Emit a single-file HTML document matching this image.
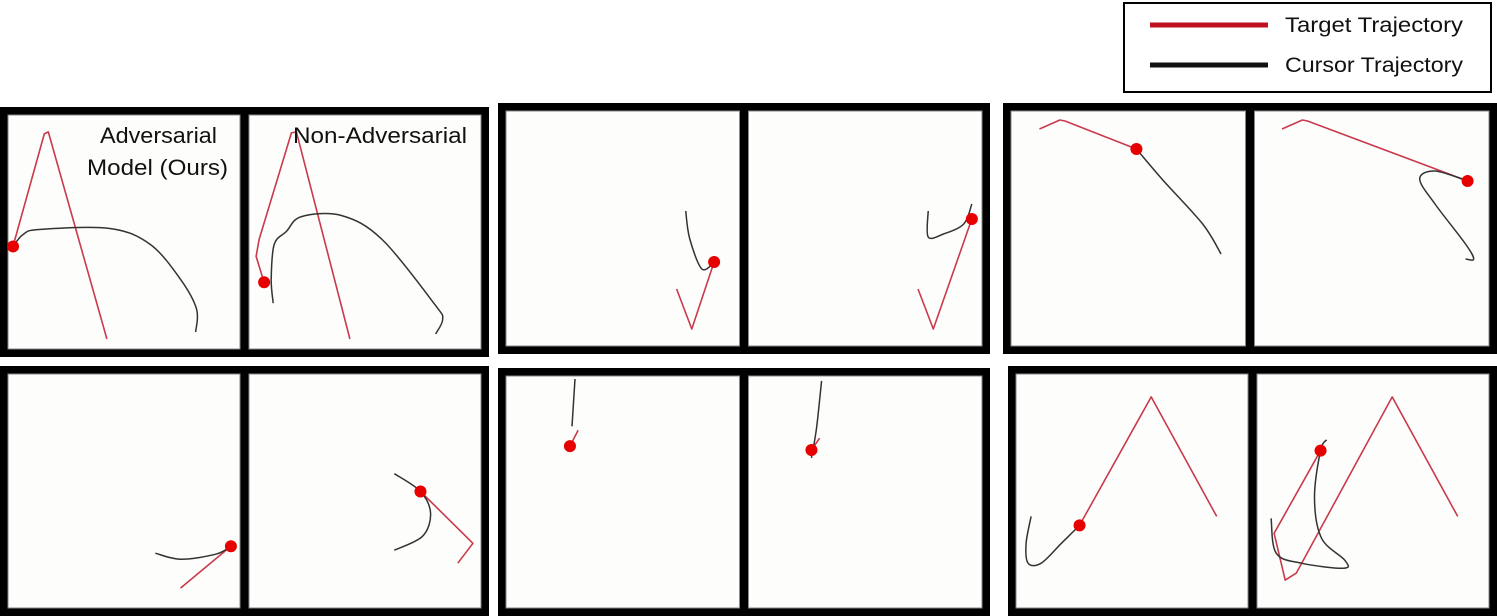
<!DOCTYPE html>
<html><head><meta charset="utf-8"><style>
body{margin:0;background:#fff;}
svg{display:block;font-family:"Liberation Sans","DejaVu Sans",sans-serif;}
</style></head><body>
<svg id="fig" width="1497" height="616" viewBox="0 0 1497 616">
<g>
<rect x="1124" y="3" width="367" height="89" fill="#fff" stroke="#000" stroke-width="2"/>
<line x1="1150" y1="25" x2="1268" y2="25" stroke="#c0111f" stroke-width="5"/>
<text x="1285" y="32" font-size="21" textLength="178" lengthAdjust="spacingAndGlyphs" fill="#111">Target Trajectory</text>
<line x1="1150" y1="65" x2="1268" y2="65" stroke="#111" stroke-width="5"/>
<text x="1285" y="72" font-size="21" textLength="178" lengthAdjust="spacingAndGlyphs" fill="#111">Cursor Trajectory</text>
</g>
<g id="groups"></g>
<text x="100" y="143" font-size="22" textLength="117" lengthAdjust="spacingAndGlyphs" fill="#111">Adversarial</text>
<text x="87" y="175" font-size="22" textLength="141" lengthAdjust="spacingAndGlyphs" fill="#111">Model (Ours)</text>
<text x="293" y="143" font-size="22" textLength="174" lengthAdjust="spacingAndGlyphs" fill="#111">Non-Adversarial</text>
</svg>
<script>
// group frames [x, y, w, h]
const groupBoxes = [[0,107,489,250],[498,103,492,251],[1003,103,494,251],[0,366,489,250],[498,368,492,248],[1008,366,489,250]];
// trajectories per panel (local coords, panel ~230x235)
const targets = [
 [[5,132],[36,19],[40,17],[98,225]],
 [[15,168],[7,142],[10,125],[42,18],[47,17],[100,225]],
 [[168,178],[183,218],[205,151]],
 [[167,178],[182,218],[220,108]],
 [[28,18],[48,9],[53,10],[123,38]],
 [[27,18],[47,9],[52,10],[209,70]],
 [[171,215],[221,173]],
 [[170,118],[222,170],[207,190]],
 [[71,55],[63,71]],
 [[70,63],[62,75]],
 [[63,152],[134,23],[199,143]],
 [[63,77],[17,160],[28,207],[39,200],[134,23],[199,143]]
];
const cursors = [
 [[5,132],[15,120],[31,115],[101,114],[141,130],[171,165],[187,195],[186,218]],
 [[24,189],[22,165],[25,130],[37,117],[52,102],[92,101],[132,125],[184,190],[192,205],[185,220]],
 [[177,100],[181,128],[193,158],[205,151]],
 [[177,100],[177,126],[192,123],[212,113],[220,93]],
 [[123,38],[148,68],[188,113],[206,143]],
 [[209,70],[177,60],[162,68],[177,93],[207,133],[215,148],[207,148]],
 [[146,180],[171,186],[206,181],[221,173]],
 [[144,100],[170,118],[180,140],[172,163],[144,177]],
 [[68,3],[65,51]],
 [[72,5],[67,53],[62,83]],
 [[15,143],[10,170],[12,190],[25,190],[45,170],[63,152]],
 [[69,66],[63,77],[57,125],[64,165],[87,187],[86,195],[44,190],[19,180],[14,145]]
];
const dots = [[5,132],[15,168],[205,151],[220,108],[123,38],[209,70],[221,173],[170,118],[63,71],[62,75],[63,152],[63,77]];
const NS="http://www.w3.org/2000/svg";
const root=document.getElementById('groups');
function mk(t,a){const e=document.createElementNS(NS,t);for(const k in a)e.setAttribute(k,a[k]);return e;}
function sx(p,v){return p.x+v*p.w/230;}
function sy(p,v){return p.y+v*p.h/235;}
function pts(p,arr){return arr.map(q=>sx(p,q[0]).toFixed(1)+','+sy(p,q[1]).toFixed(1)).join(' ');}
function smooth(p,arr){
 const P=arr.map(q=>[sx(p,q[0]),sy(p,q[1])]);
 let d='M'+P[0][0].toFixed(1)+','+P[0][1].toFixed(1);
 for(let i=0;i<P.length-1;i++){
  const p0=P[Math.max(i-1,0)],p1=P[i],p2=P[i+1],p3=P[Math.min(i+2,P.length-1)];
  const c1=[p1[0]+(p2[0]-p0[0])/6,p1[1]+(p2[1]-p0[1])/6];
  const c2=[p2[0]-(p3[0]-p1[0])/6,p2[1]-(p3[1]-p1[1])/6];
  d+=' C'+c1.map(v=>v.toFixed(1)).join(',')+' '+c2.map(v=>v.toFixed(1)).join(',')+' '+p2.map(v=>v.toFixed(1)).join(',');
 }
 return d;
}
groupBoxes.forEach((b,gi)=>{
 const g=mk('g',{});
 
 
 const fr=mk('rect',{x:b[0],y:b[1],width:b[2],height:b[3],fill:'#000'});
 
 
 g.appendChild(fr);
 const pw=(b[2]-16-9)/2, ph=b[3]-16;
 for(let k=0;k<2;k++){
  const idx=gi*2+k;
  const p={x:b[0]+8+k*(pw+9),y:b[1]+8,w:pw,h:ph};
  const bg=mk('rect',{x:p.x,y:p.y,width:p.w,height:p.h,fill:'#fdfdfb',stroke:'#888','stroke-width':1});
  
  
  g.appendChild(bg);
  const t=mk('polyline',{points:pts(p,targets[idx]),fill:'none',stroke:'#c93a4c','stroke-width':1.6,'stroke-linejoin':'round'});
  
  
  g.appendChild(t);
  const c=mk('path',{d:smooth(p,cursors[idx]),fill:'none',stroke:'#333','stroke-width':1.5,'stroke-linejoin':'round'});
  
  
  g.appendChild(c);
  const d=mk('circle',{cx:sx(p,dots[idx][0]),cy:sy(p,dots[idx][1]),r:6,fill:'#e60000'});
  
  
  g.appendChild(d);
 }
 root.appendChild(g);
});
</script>
</body></html>
